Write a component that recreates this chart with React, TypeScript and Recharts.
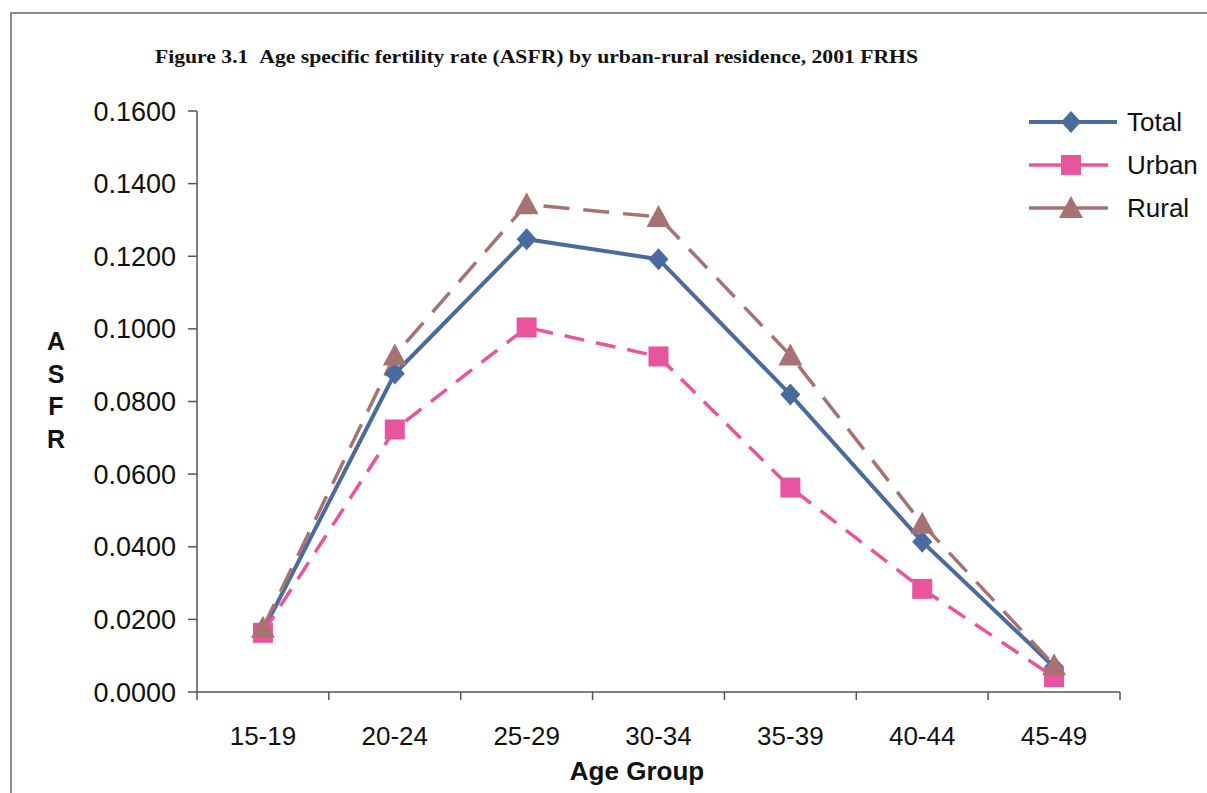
import React from "react"
import { LineChart, Line, XAxis, YAxis } from "recharts"

const ageGroups = ["15-19", "20-24", "25-29", "30-34", "35-39", "40-44", "45-49"]
const totalAsfr = [0.0168, 0.0877, 0.1247, 0.1192, 0.0819, 0.0414, 0.0069]
const urbanAsfr = [0.0163, 0.0723, 0.1004, 0.0924, 0.0563, 0.0284, 0.0041]
const ruralAsfr = [0.0177, 0.0927, 0.1343, 0.1308, 0.0927, 0.0463, 0.0074]
const yTicks = [0, 0.02, 0.04, 0.06, 0.08, 0.1, 0.12, 0.14, 0.16]

const TOTAL_COLOR = "#4a6b9d"
const URBAN_COLOR = "#e9549f"
const RURAL_COLOR = "#a87272"
const AXIS_COLOR = "#555"
const SANS = "Arial, 'Liberation Sans', sans-serif"

// x is numeric: categories sit at i + 0.5 so the tick marks can fall between them (Excel style)
const data = ageGroups.map((group, i) => ({
  pos: i + 0.5,
  group,
  Total: totalAsfr[i],
  Urban: urbanAsfr[i],
  Rural: ruralAsfr[i],
}))
const xTicks: number[] = []
for (let i = 0; i <= ageGroups.length; i++) {
  xTicks.push(i)
  if (i < ageGroups.length) xTicks.push(i + 0.5)
}

const Diamond = ({ cx, cy, fill }: any) => (
  <path d={`M${cx},${cy - 11} L${cx + 10},${cy} L${cx},${cy + 11} L${cx - 10},${cy} Z`} fill={fill} />
)
const Square = ({ cx, cy, fill }: any) => (
  <rect x={cx - 10} y={cy - 10} width={20} height={20} fill={fill} />
)
const Triangle = ({ cx, cy, fill }: any) => (
  <path d={`M${cx},${cy - 12} L${cx + 12},${cy + 10} L${cx - 12},${cy + 10} Z`} fill={fill} />
)

const AgeTick = (props: any) => {
  const { x, y, payload } = props
  const v = payload.value
  if (Number.isInteger(v)) {
    return <line x1={x} x2={x} y1={y} y2={y + 8} stroke={AXIS_COLOR} strokeWidth={1.5} />
  }
  return (
    <text x={x} y={y + 53} textAnchor="middle" fontSize={26} fill="#111" fontFamily={SANS}>
      {ageGroups[Math.floor(v)]}
    </text>
  )
}

const legendItems = [
  { name: "Total", color: TOTAL_COLOR, Marker: Diamond },
  { name: "Urban", color: URBAN_COLOR, Marker: Square },
  { name: "Rural", color: RURAL_COLOR, Marker: Triangle },
]

export default function App() {
  return (
    <div style={{ position: "absolute", left: 0, top: 0, width: 1207, height: 793, overflow: "hidden", background: "#fff" }}>
      <div style={{ position: "absolute", left: 10, top: 12, width: 1260, height: 850, border: "2px solid #8a8a8a" }} />
      <div style={{ position: "absolute", left: 0, top: 0 }}>
        <LineChart width={1207} height={793} data={data} margin={{ top: 111, right: 87, bottom: 41, left: 0 }}>
          <XAxis
            dataKey="pos"
            type="number"
            domain={[0, ageGroups.length]}
            ticks={xTicks}
            interval={0}
            tickSize={0}
            tickMargin={0}
            tickLine={false}
            tick={<AgeTick />}
            height={60}
            stroke={AXIS_COLOR}
            strokeWidth={1.5}
          />
          <YAxis
            type="number"
            domain={[0, 0.16]}
            ticks={yTicks}
            interval={0}
            width={197}
            tickSize={9}
            tickMargin={12}
            tickFormatter={(v: number) => v.toFixed(4)}
            tick={{ fontSize: 27, fill: "#111", fontFamily: SANS }}
            stroke={AXIS_COLOR}
            strokeWidth={1.5}
          />
          <Line
            dataKey="Total"
            stroke={TOTAL_COLOR}
            strokeWidth={4}
            isAnimationActive={false}
            activeDot={false}
            dot={(p: any) => <Diamond key={`t-${p.index}`} cx={p.cx} cy={p.cy} fill={TOTAL_COLOR} />}
          />
          <Line
            dataKey="Urban"
            stroke={URBAN_COLOR}
            strokeWidth={3.5}
            strokeDasharray="20 12"
            isAnimationActive={false}
            activeDot={false}
            dot={(p: any) => <Square key={`u-${p.index}`} cx={p.cx} cy={p.cy} fill={URBAN_COLOR} />}
          />
          <Line
            dataKey="Rural"
            stroke={RURAL_COLOR}
            strokeWidth={3.5}
            strokeDasharray="26 14"
            isAnimationActive={false}
            activeDot={false}
            dot={(p: any) => <Triangle key={`r-${p.index}`} cx={p.cx} cy={p.cy} fill={RURAL_COLOR} />}
          />
        </LineChart>
      </div>
      <svg width={1207} height={793} style={{ position: "absolute", left: 0, top: 0, pointerEvents: "none" }}>
        <text
          x={155}
          y={63}
          fontFamily="'Liberation Serif', 'Times New Roman', serif"
          fontWeight="bold"
          fontSize={19.5}
          textLength={763}
          lengthAdjust="spacingAndGlyphs"
          fill="#111"
        >
          {"Figure 3.1\u00a0\u00a0Age specific fertility rate (ASFR) by urban-rural residence, 2001 FRHS"}
        </text>
        {"ASFR".split("").map((ch, i) => (
          <text key={ch} x={56} y={350 + i * 32.5} textAnchor="middle" fontFamily={SANS} fontWeight="bold" fontSize={25} fill="#111">
            {ch}
          </text>
        ))}
        <text x={637} y={780} textAnchor="middle" fontFamily={SANS} fontWeight="bold" fontSize={26} fill="#111">
          Age Group
        </text>
        {legendItems.map((item, i) => {
          const cy = 122 + i * 43
          const Marker = item.Marker
          return (
            <g key={item.name}>
              <line x1={1029} x2={i === 0 ? 1117 : 1108} y1={cy} y2={cy} stroke={item.color} strokeWidth={i === 0 ? 4 : 3.5} />
              <Marker cx={1071} cy={cy} fill={item.color} />
              <text x={1127} y={cy + 9} fontFamily={SANS} fontSize={26} fill="#111">
                {item.name}
              </text>
            </g>
          )
        })}
      </svg>
    </div>
  )
}
